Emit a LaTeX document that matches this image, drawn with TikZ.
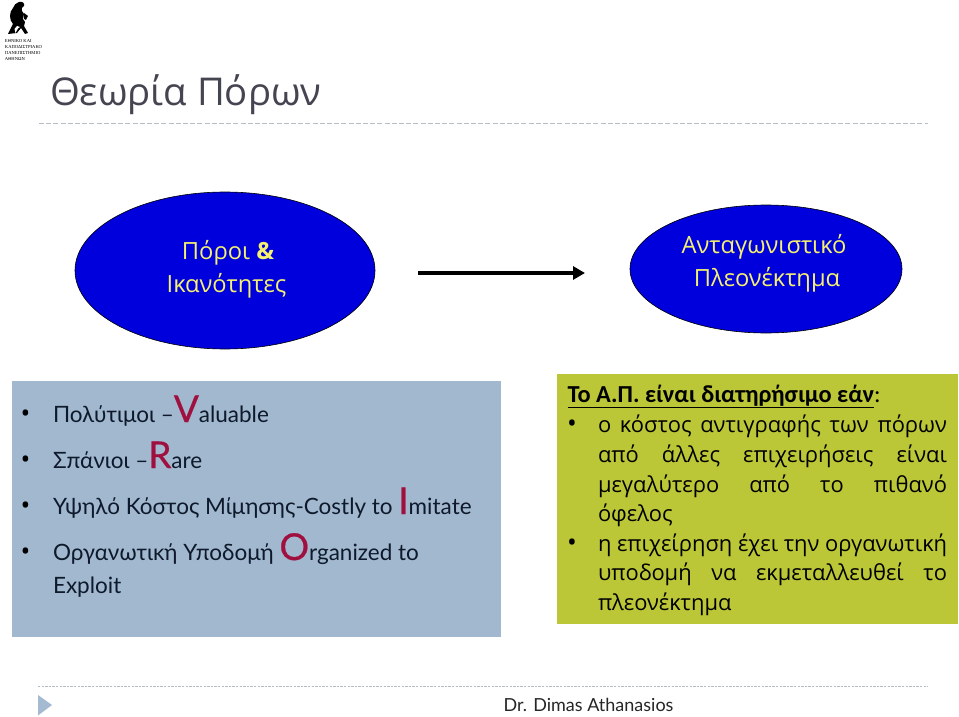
\documentclass[tikz,border=0pt]{standalone}
\usepackage{fontspec}
\setmainfont{Open Sans}
\newfontfamily\gill{Lato}
\newfontfamily\ttl{Open Sans}
\newfontfamily\logof{Liberation Serif}
\newfontfamily\calib{Carlito}
\usetikzlibrary{arrows.meta}
\definecolor{panelblue}{HTML}{A1B8CF}
\definecolor{panelgreen}{HTML}{BCC737}
\definecolor{accent}{HTML}{A0103F}
\definecolor{ellblue}{HTML}{0000DC}
\definecolor{elltext}{HTML}{F4F070}
\definecolor{ink}{HTML}{0E1A2B}
\definecolor{titlec}{HTML}{454551}
\definecolor{rule}{HTML}{B4BEC4}
\definecolor{tri}{HTML}{A4BAD0}
\tikzset{
  every node/.style={inner sep=0pt,outer sep=0pt},
  oval/.style={draw=black,line width=0.6pt,fill=ellblue},
  left line/.style={anchor=base west,font=\gill\fontsize{22.5}{22.5}\selectfont,text=ink},
  right line/.style={anchor=base west,font=\fontsize{21.9}{21.9}\selectfont,text=black},
  bulletdot/.style={anchor=base,font=\fontsize{26}{26}\selectfont,text=black},
  ovallabel/.style={anchor=base,font=\fontsize{23.7}{23.7}\selectfont,text=elltext},
  dashrule/.style={draw=rule,line width=1pt,dash pattern=on 5pt off 2.2pt},
  logotext/.style={anchor=base west,font=\logof\fontsize{4.6}{4.6}\selectfont,text=black}
}
\newcommand{\capletter}[1]{{\color{accent}\addfontfeature{FakeBold=0.6}\fontsize{37}{37}\selectfont #1}}
\newcommand{\jl}[1]{\makebox[349pt][s]{#1}}
\begin{document}
\begin{tikzpicture}[x=1pt,y=-1pt]
\useasboundingbox (0,0) rectangle (959,717);
\fill[white] (0,0) rectangle (959,717);
% logo
\fill[black] (19,2) .. controls (22,1) and (25,3) .. (24,6) .. controls (22,7) and (21,9) .. (22,11) -- (24,14) -- (23,19) -- (25,22) -- (24,26) -- (28,33) -- (25,34) -- (21,28) -- (17,33) -- (8,34) -- (13,24) .. controls (9,20) and (9,12) .. (13,8) .. controls (14,5) and (16,3) .. (19,2) -- cycle;
\fill[white] (15.5,33) -- (18,28.5) -- (20,27) -- (17,26) -- (14.5,29) -- cycle;
\fill[black] (24,13) -- (28,16) -- (26,20) -- (24,19) -- cycle;
\node[logotext] (lg1) at (5,42.5) {ΕΘΝΙΚΟ ΚΑΙ};
\node[logotext] (lg2) at (5,49) {ΚΑΠΟΔΙΣΤΡΙΑΚΟ};
\node[logotext] (lg3) at (5,55) {ΠΑΝΕΠΙΣΤΗΜΙΟ};
\node[logotext] (lg4) at (5,61) {ΑΘΗΝΩΝ};
% title
\node[anchor=base west,font=\ttl\fontsize{38.3}{38.3}\selectfont,text=titlec] (title) at (50,106) {Θεωρία Πόρων};
\coordinate (r1a) at (39,123.5); \coordinate (r1b) at (928,123.5);
\draw[dashrule] (r1a) -- (r1b);
\coordinate (r2a) at (38,686); \coordinate (r2b) at (928,686);
\draw[dashrule,line width=0.8pt,dash pattern=on 2.4pt off 1.2pt] (r2a) -- (r2b);
% ovals
\draw[oval] (225,270.5) ellipse [x radius=150,y radius=78.5];
\draw[oval] (766,269) ellipse [x radius=136,y radius=64];
\node[ovallabel] (o1a) at (228,259) {Πόροι \textbf{\&}};
\node[ovallabel] (o1b) at (226.5,292) {Ικανότητες};
\node[ovallabel] (o2a) at (764,253) {Ανταγωνιστικό};
\node[ovallabel] (o2b) at (767,286) {Πλεονέκτημα};
\coordinate (ar1) at (418,273); \coordinate (ar2) at (585,273);
\draw[line width=3.6pt,black,-{Triangle[length=12pt,width=13pt]}] (ar1) -- (ar2);
% left panel
\fill[panelblue] (11.5,381) rectangle (501,637);
\node[bulletdot] (b1) at (25.5,422) {•};
\node[bulletdot] (b2) at (25.5,468) {•};
\node[bulletdot] (b3) at (25.5,514) {•};
\node[bulletdot] (b4) at (25.5,560) {•};
\node[left line] (l1) at (53,422) {Πολύτιμοι –\capletter{V}aluable};
\node[left line] (l2) at (53,468) {Σπάνιοι –\capletter{R}are};
\node[left line] (l3) at (53,514) {Υψηλό Κόστος Μίμησης-Costly to \capletter{I}mitate};
\node[left line] (l4) at (53,560) {Οργανωτική Υποδομή \capletter{O}rganized to};
\node[left line] (l5) at (53,593) {Exploit};
% right panel
\fill[panelgreen] (557,374) rectangle (958,624);
\node[anchor=base west,font=\calib\fontsize{24.4}{24.4}\selectfont,text=black] (h) at (567.5,402) {\underline{\bfseries Το Α.Π. είναι διατηρήσιμο εάν}:};
\node[bulletdot] (c1) at (572,432) {•};
\node[bulletdot] (c2) at (572,551) {•};
\node[right line] (g1) at (598,432) {\jl{ο κόστος αντιγραφής των πόρων}};
\node[right line] (g2) at (598,462) {\jl{από άλλες επιχειρήσεις είναι}};
\node[right line] (g3) at (598,492) {\jl{μεγαλύτερο από το πιθανό}};
\node[right line] (g4) at (598,521) {όφελος};
\node[right line] (g5) at (598,551) {\jl{η επιχείρηση έχει την οργανωτική}};
\node[right line] (g6) at (598,580) {\jl{υποδομή να εκμεταλλευθεί το}};
\node[right line] (g7) at (598,610) {πλεονέκτημα};
% footer
\fill[tri] (38,695) -- (52,705) -- (38,715.5) -- cycle;
\node[anchor=base,font=\gill\fontsize{18}{18}\selectfont,text=black!85] (foot) at (588.5,711) {Dr. Dimas Athanasios};
\end{tikzpicture}
\end{document}
